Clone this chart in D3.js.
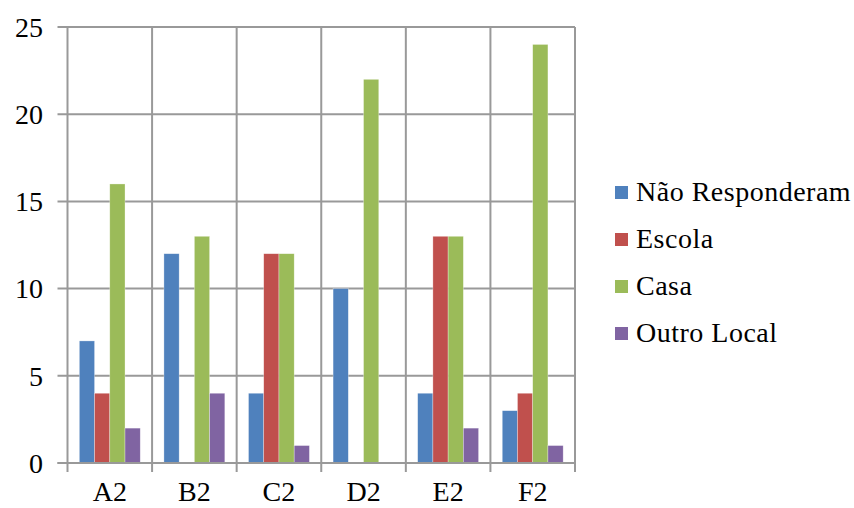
<!DOCTYPE html>
<html>
<head>
<meta charset="utf-8">
<script src="https://cdn.jsdelivr.net/npm/d3@7"></script>
<style>
  html, body { margin: 0; padding: 0; background: #fff; }
  svg { display: block; }
  text { font-family: "Liberation Serif", "Times New Roman", serif; fill: #000; }
</style>
</head>
<body>
<svg id="chart" width="854" height="508"></svg>
<script>
// Categories and series
const categories = ["A2", "B2", "C2", "D2", "E2", "F2"];
const seriesNames = ["Não Responderam", "Escola", "Casa", "Outro Local"];
const naoResponderam = [7, 12, 4, 10, 4, 3];
const escola = [4, 0, 12, 0, 13, 4];
const casa = [16, 13, 12, 22, 13, 24];
const outroLocal = [2, 4, 1, 0, 2, 1];
const yTicks = [0, 5, 10, 15, 20, 25];
const colors = ["#4F81BD", "#C0504D", "#9BBB59", "#8064A2"];

const seriesValues = [naoResponderam, escola, casa, outroLocal];

const svg = d3.select("#chart");
const plot = { left: 67.5, right: 575, top: 27, bottom: 463 };
const gridColor = "#999";

const x = d3.scaleBand().domain(categories).range([plot.left, plot.right]).paddingInner(0.28).paddingOuter(0.14);
const xs = d3.scaleBand().domain(seriesNames).range([0, x.bandwidth()]);
const y = d3.scaleLinear().domain([0, 25]).range([plot.bottom, plot.top]);

// Horizontal gridlines with left tick marks
svg.append("g").selectAll("line").data(yTicks).join("line")
  .attr("x1", plot.left - 10).attr("x2", plot.right)
  .attr("y1", d => y(d)).attr("y2", d => y(d))
  .attr("stroke", gridColor).attr("stroke-width", 2);

// Vertical gridlines at category boundaries, extended below as tick marks
const boundaries = d3.range(categories.length + 1).map(i => plot.left + i * x.step());
svg.append("g").selectAll("line").data(boundaries).join("line")
  .attr("x1", d => d).attr("x2", d => d)
  .attr("y1", plot.top).attr("y2", plot.bottom + 9)
  .attr("stroke", gridColor).attr("stroke-width", 2);

// Y tick labels
svg.append("g").selectAll("text").data(yTicks).join("text")
  .attr("x", 43).attr("y", d => y(d)).attr("dy", "0.35em")
  .attr("text-anchor", "end").style("font-size", "28px")
  .text(d => d);

// X tick labels
svg.append("g").selectAll("text").data(categories).join("text")
  .attr("x", d => x(d) + x.bandwidth() / 2).attr("y", 501)
  .attr("text-anchor", "middle").style("font-size", "28px")
  .text(d => d);

// Bars
const groups = svg.append("g").selectAll("g").data(categories).join("g")
  .attr("transform", d => `translate(${x(d)},0)`);
groups.selectAll("rect")
  .data((c, ci) => seriesNames.map((s, si) => ({ s, si, v: seriesValues[si][ci] })))
  .join("rect")
  .attr("x", d => xs(d.s))
  .attr("width", xs.bandwidth())
  .attr("y", d => y(d.v))
  .attr("height", d => y(0) - y(d.v))
  .attr("fill", d => colors[d.si])
  .attr("stroke", "rgba(255,255,255,0.5)").attr("stroke-width", 0.6);

// Redraw the baseline on top of bars
svg.append("line")
  .attr("x1", plot.left - 10).attr("x2", plot.right)
  .attr("y1", y(0)).attr("y2", y(0))
  .attr("stroke", gridColor).attr("stroke-width", 2);

// Legend
const legend = svg.append("g").selectAll("g").data(seriesNames).join("g")
  .attr("transform", (d, i) => `translate(615,${191 + i * 47})`);
legend.append("rect")
  .attr("x", 0).attr("y", -5).attr("width", 13).attr("height", 13)
  .attr("fill", (d, i) => colors[i]);
legend.append("text")
  .attr("x", 21).attr("y", 0).attr("dy", "0.35em")
  .style("font-size", "28px").style("letter-spacing", "0.5px")
  .text(d => d);
</script>
</body>
</html>
